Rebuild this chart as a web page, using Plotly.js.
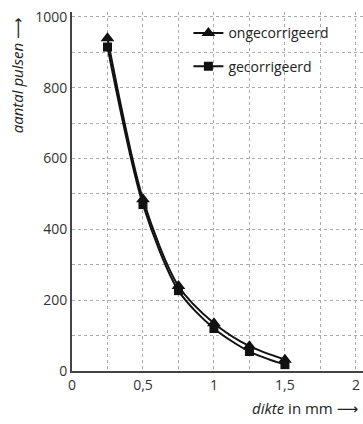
<!DOCTYPE html>
<html><head><meta charset="utf-8">
<script src="https://cdn.plot.ly/plotly-3.0.1.min.js"></script>
<style>html,body{margin:0;padding:0;background:#fff}#c{width:363px;height:424px}</style>
</head><body><div id="c"></div>
<script>
const dikte = [0.25, 0.5, 0.75, 1.0, 1.25, 1.5];
const ongecorrigeerd = [940, 485, 240, 135, 70, 32];
const gecorrigeerd = [915, 470, 227, 120, 55, 18];
const seriesNames = ['ongecorrigeerd', 'gecorrigeerd'];
const xTickVals = [0, 0.5, 1, 1.5, 2];
const xTickText = ['0', '0,5', '1', '1,5', '2'];
const yTickVals = [0, 200, 400, 600, 800, 1000];
const yTickText = ['0', '200', '400', '600', '800', '1000'];

const font = 'Open Sans, DejaVu Sans, sans-serif';
const traces = [
  {x: dikte, y: ongecorrigeerd, name: seriesNames[0], legendgroup: 'a', mode: 'lines+markers',
   line: {color: '#111', width: 2, shape: 'spline', smoothing: 0.8}, marker: {symbol: 'triangle-up', size: 12, color: '#111'}},
  {x: dikte, y: gecorrigeerd, name: seriesNames[1], legendgroup: 'b', mode: 'lines+markers',
   line: {color: '#111', width: 2, shape: 'spline', smoothing: 0.8}, marker: {symbol: 'square', size: 9, color: '#111'}}
];
const layout = {
  width: 363, height: 424,
  margin: {l: 72, r: 0, t: 12, b: 53},
  paper_bgcolor: '#fff', plot_bgcolor: '#fff',
  font: {family: font, size: 14, color: '#333'},
  showlegend: true,
  legend: {x: 0.4, y: 0.985, xanchor: 'left', yanchor: 'top', bgcolor: 'rgba(0,0,0,0)',
           traceorder: 'grouped', tracegroupgap: 12, font: {size: 14, color: '#222'}},
  xaxis: {range: [0, 2.05], tickvals: xTickVals, ticktext: xTickText, ticks: '',
          showline: true, linecolor: '#444', linewidth: 2, zeroline: false,
          showgrid: true, gridcolor: '#aaa', griddash: 'dot', gridwidth: 1,
          minor: {dtick: 0.25, tick0: 0, showgrid: true, gridcolor: '#aaa', griddash: 'dot', gridwidth: 1},
          tickfont: {size: 14, color: '#333'}, fixedrange: true},
  yaxis: {range: [0, 1014], tickvals: yTickVals, ticktext: yTickText, ticks: '',
          showline: true, linecolor: '#444', linewidth: 2, zeroline: false,
          showgrid: true, gridcolor: '#aaa', griddash: 'dot', gridwidth: 1,
          minor: {dtick: 100, tick0: 0, showgrid: true, gridcolor: '#aaa', griddash: 'dot', gridwidth: 1},
          tickfont: {size: 14, color: '#333'}, fixedrange: true},
  annotations: [
    {xref: 'paper', yref: 'paper', x: -0.19, y: 0.99, xanchor: 'center', yanchor: 'top',
     textangle: -90, showarrow: false, font: {size: 15, color: '#222'},
     text: '<i>aantal pulsen</i> ⟶'},
    {xref: 'paper', yref: 'paper', x: 0.99, y: -0.103, xanchor: 'right', yanchor: 'middle',
     showarrow: false, font: {size: 15, color: '#222'},
     text: '<i>dikte</i> in mm ⟶'}
  ]
};
Plotly.newPlot('c', traces, layout, {displayModeBar: false, staticPlot: true});
</script></body></html>
